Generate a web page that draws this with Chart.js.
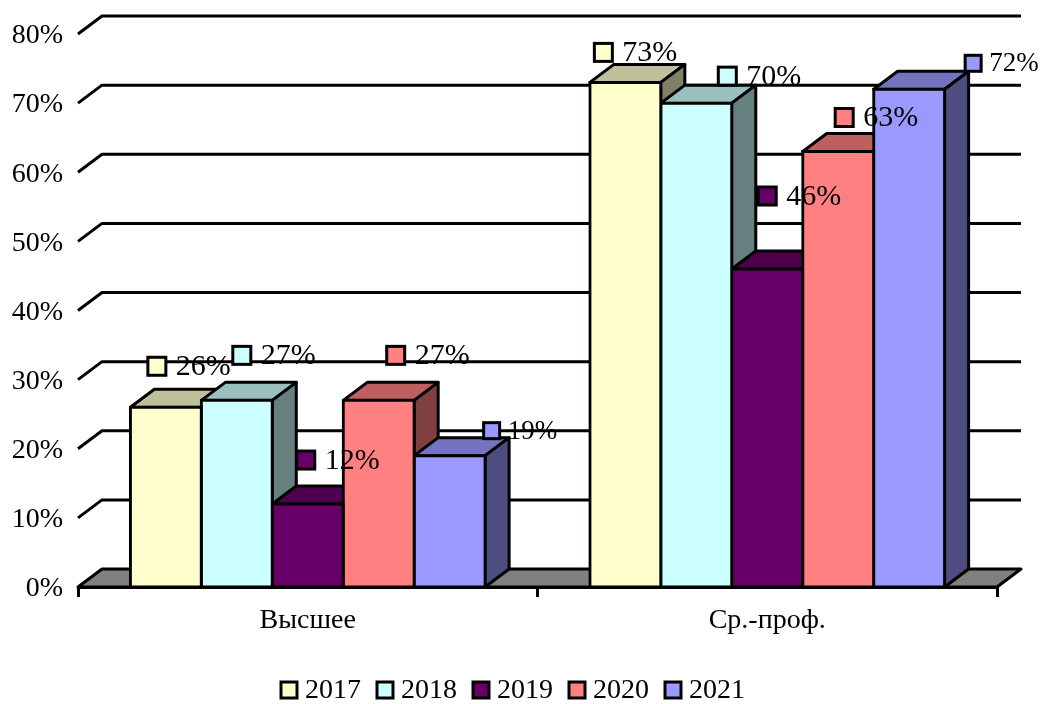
<!DOCTYPE html>
<html>
<head>
<meta charset="utf-8">
<title>Chart</title>
<script src="https://cdn.jsdelivr.net/npm/chart.js@4"></script>
<style>
    html, body { margin: 0; background: #fff; }
    #wrap { width: 1043px; height: 704px; }
</style>
</head>
<body>
<div id="wrap"><canvas id="chart" width="1043" height="704"></canvas></div>
<script>
const categories = ['Высшее', 'Ср.-проф.'];
const seriesNames = ['2017', '2018', '2019', '2020', '2021'];
const values2017 = [26, 73];
const values2018 = [27, 70];
const values2019 = [12, 46];
const values2020 = [27, 63];
const values2021 = [19, 72];
const yTicks = [0, 10, 20, 30, 40, 50, 60, 70, 80];

const allValues = [values2017, values2018, values2019, values2020, values2021];
const colors = ['#FFFFCC', '#CCFFFF', '#660066', '#FF8080', '#9999FF'];

const FONT = '"Liberation Serif", serif';
const DX = 24, DY = -18;   // глубина псевдо-3D
const LINE = 3;

// смещения подписей от центра/верха столбца (как в оригинале)
const labelShift = [
    [[-9, -41], [-22, -30]],
    [[5, -45], [31, -27]],
    [[-2, -44], [0, -73]],
    [[17, -45], [6, -34]],
    [[42, -25], [64, -26]]
];

function shade(hex, k) {
    const n = parseInt(hex.slice(1), 16);
    const c = [n >> 16, (n >> 8) & 255, n & 255].map(v => Math.round(v * k));
    return `rgb(${c[0]},${c[1]},${c[2]})`;
}

function poly(ctx, pts, fill) {
    ctx.beginPath();
    pts.forEach((p, i) => i ? ctx.lineTo(p[0], p[1]) : ctx.moveTo(p[0], p[1]));
    ctx.closePath();
    ctx.fillStyle = fill;
    ctx.fill();
    ctx.stroke();
}

const box3d = {
    id: 'box3d',
    beforeDatasetsDraw(chart) {
        const ctx = chart.ctx, area = chart.chartArea, yScale = chart.scales.y;
        ctx.save();
        ctx.strokeStyle = '#000';
        ctx.lineWidth = LINE;
        ctx.lineJoin = 'round';

        // стена: линии сетки
        yTicks.slice(1).forEach(v => {
            const y = yScale.getPixelForValue(v);
            ctx.beginPath();
            ctx.moveTo(area.left, y);
            ctx.lineTo(area.left + DX, y + DY);
            ctx.lineTo(area.right + DX, y + DY);
            ctx.stroke();
        });

        // пол
        const y0 = yScale.getPixelForValue(0);
        poly(ctx, [[area.left, y0], [area.left + DX, y0 + DY], [area.right + DX, y0 + DY], [area.right, y0]], '#808080');

        // верх и бок столбцов, лицевую грань рисует сам Chart.js
        chart.data.datasets.forEach((ds, di) => {
            chart.getDatasetMeta(di).data.forEach(bar => {
                const p = bar.getProps(['x', 'y', 'base', 'width'], true);
                const l = p.x - p.width / 2, r = p.x + p.width / 2;
                poly(ctx, [[l, p.y], [l + DX, p.y + DY], [r + DX, p.y + DY], [r, p.y]], shade(colors[di], 0.75));
                poly(ctx, [[r, p.y], [r + DX, p.y + DY], [r + DX, p.base + DY], [r, p.base]], shade(colors[di], 0.5));
            });
        });
        ctx.restore();
    },
    afterDatasetsDraw(chart) {
        const ctx = chart.ctx;
        ctx.save();
        ctx.lineWidth = LINE;
        ctx.strokeStyle = '#000';
        ctx.textBaseline = 'middle';
        ctx.textAlign = 'left';

        // подписи значений с ключом, у 2021 они мельче
        chart.data.datasets.forEach((ds, di) => {
            const small = di === 4;
            const half = small ? 8 : 9;
            ctx.font = (small ? 27 : 30) + 'px ' + FONT;
            chart.getDatasetMeta(di).data.forEach((bar, i) => {
                const p = bar.getProps(['x', 'y'], true);
                const cx = p.x + labelShift[di][i][0], cy = p.y + labelShift[di][i][1];
                ctx.fillStyle = colors[di];
                ctx.fillRect(cx - half, cy - half, half * 2, half * 2);
                ctx.strokeRect(cx - half, cy - half, half * 2, half * 2);
                ctx.fillStyle = '#000';
                ctx.fillText(ds.data[i] + '%', cx + (small ? 16 : 19), cy + 1);
            });
        });

        // легенда
        ctx.font = '28px ' + FONT;
        chart.data.datasets.forEach((ds, di) => {
            const x = 281 + di * 96, y = 690;
            ctx.fillStyle = colors[di];
            ctx.fillRect(x, y - 8, 16, 16);
            ctx.strokeRect(x, y - 8, 16, 16);
            ctx.fillStyle = '#000';
            ctx.fillText(ds.label, x + 24, y + 1);
        });
        ctx.restore();
    }
};

new Chart(document.getElementById('chart'), {
    type: 'bar',
    data: {
        labels: categories,
        datasets: seriesNames.map((name, i) => ({
            label: name,
            data: allValues[i],
            backgroundColor: colors[i],
            borderColor: '#000',
            borderWidth: LINE,
            borderSkipped: false,
            inflateAmount: 1.5,
            barPercentage: 1,
            categoryPercentage: 0.772
        }))
    },
    options: {
        responsive: false,
        animation: false,
        layout: { padding: { top: 34, right: 46 } },
        scales: {
            x: {
                afterFit: s => { s.height = 117; },
                border: { color: '#000', width: LINE },
                grid: { drawOnChartArea: false, color: '#000', lineWidth: LINE, tickLength: 10, offset: true },
                ticks: { color: '#000', font: { family: FONT, size: 28 }, padding: 7, maxRotation: 0 }
            },
            y: {
                min: 0,
                max: 80,
                afterFit: s => { s.width = 78; },
                afterBuildTicks: s => { s.ticks = yTicks.map(v => ({ value: v })); },
                border: { display: false },
                grid: { display: false, drawTicks: false },
                ticks: { color: '#000', font: { family: FONT, size: 28 }, padding: 15, labelOffset: 2, callback: v => v + '%' }
            }
        },
        plugins: { legend: { display: false }, tooltip: { enabled: false } }
    },
    plugins: [box3d]
});
</script>
</body>
</html>
